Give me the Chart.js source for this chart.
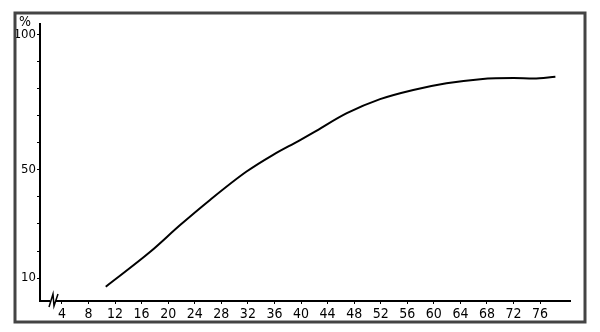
<!DOCTYPE html>
<html>
<head>
<meta charset="utf-8">
<script src="https://cdn.jsdelivr.net/npm/chart.js"></script>
<style>
  html, body { margin: 0; padding: 0; background: #fff; }
  #wrap { width: 600px; height: 332px; position: relative; }
</style>
</head>
<body>
<div id="wrap"><canvas id="chart" width="600" height="332"></canvas></div>
<script>
// data (x = age / time, y = %)
const xValues = [10.6, 17.3, 21.8, 26.3, 31.8, 35.8, 39.6, 41.9, 46.9, 51.9, 56.9, 61.9, 67, 72, 75, 78.3];
const yValues = [6.8, 19.7, 29.6, 38.9, 49.4, 55.6, 60.7, 63.9, 71, 76.2, 79.6, 82.1, 83.6, 84, 83.8, 84.5];
const xTicks = [4, 8, 12, 16, 20, 24, 28, 32, 36, 40, 44, 48, 52, 56, 60, 64, 68, 72, 76];
const yTicks = [10, 20, 30, 40, 50, 60, 70, 80, 90, 100];
const yLabels = [10, 50, 100];

const points = xValues.map((x, i) => ({ x: x, y: yValues[i] }));
const tickFont = '"DejaVu Sans Condensed", "Liberation Sans", Arial, sans-serif';

// frame, % sign and axis break
const decorations = {
  id: 'decorations',
  afterDraw(chart) {
    const ctx = chart.ctx;
    const area = chart.chartArea;
    ctx.save();
    ctx.strokeStyle = '#444';
    ctx.lineWidth = 3;
    ctx.strokeRect(15, 13, 570, 309);

    ctx.fillStyle = '#000';
    ctx.font = '14px ' + tickFont;
    ctx.textAlign = 'left';
    ctx.textBaseline = 'middle';
    ctx.fillText('%', 19, 22);

    // break mark on the x axis
    const bx = area.left + 12;
    const by = area.bottom;
    ctx.fillStyle = '#fff';
    ctx.fillRect(bx - 2, by - 2, 6, 4);
    ctx.strokeStyle = '#000';
    ctx.lineWidth = 1.5;
    ctx.beginPath();
    ctx.moveTo(bx - 3, by + 6);
    ctx.lineTo(bx + 1, by - 7);
    ctx.lineTo(bx + 2, by + 5);
    ctx.lineTo(bx + 6, by - 7);
    ctx.stroke();
    ctx.restore();
  }
};

new Chart(document.getElementById('chart').getContext('2d'), {
  type: 'line',
  data: {
    datasets: [{
      data: points,
      borderColor: '#000',
      borderWidth: 2,
      pointRadius: 0,
      fill: false,
      cubicInterpolationMode: 'monotone'
    }]
  },
  options: {
    responsive: false,
    animation: false,
    layout: { padding: { top: 24, right: 30, left: 0, bottom: 0 } },
    plugins: { legend: { display: false }, tooltip: { enabled: false } },
    scales: {
      x: {
        type: 'linear',
        min: 0.7,
        max: 80.5,
        afterFit: (scale) => { scale.height = 31; },
        afterBuildTicks: (scale) => { scale.ticks = xTicks.map(v => ({ value: v })); },
        border: { display: true, color: '#000', width: 2 },
        grid: { drawOnChartArea: false, drawTicks: true, tickLength: 3, color: '#000' },
        ticks: {
          color: '#000',
          padding: 2,
          maxRotation: 0,
          autoSkip: false,
          font: { family: tickFont, size: 14 },
          callback: (v) => String(v)
        }
      },
      y: {
        type: 'linear',
        min: 1.5,
        max: 104,
        afterFit: (scale) => { scale.width = 40; },
        afterBuildTicks: (scale) => { scale.ticks = yTicks.map(v => ({ value: v })); },
        border: { display: true, color: '#000', width: 2 },
        grid: { drawOnChartArea: false, drawTicks: true, tickLength: 3, color: '#000' },
        ticks: {
          color: '#000',
          padding: 1,
          autoSkip: false,
          font: { family: tickFont, size: 13 },
          callback: (v) => yLabels.includes(v) ? String(v) : ''
        }
      }
    }
  },
  plugins: [decorations]
});
</script>
</body>
</html>
